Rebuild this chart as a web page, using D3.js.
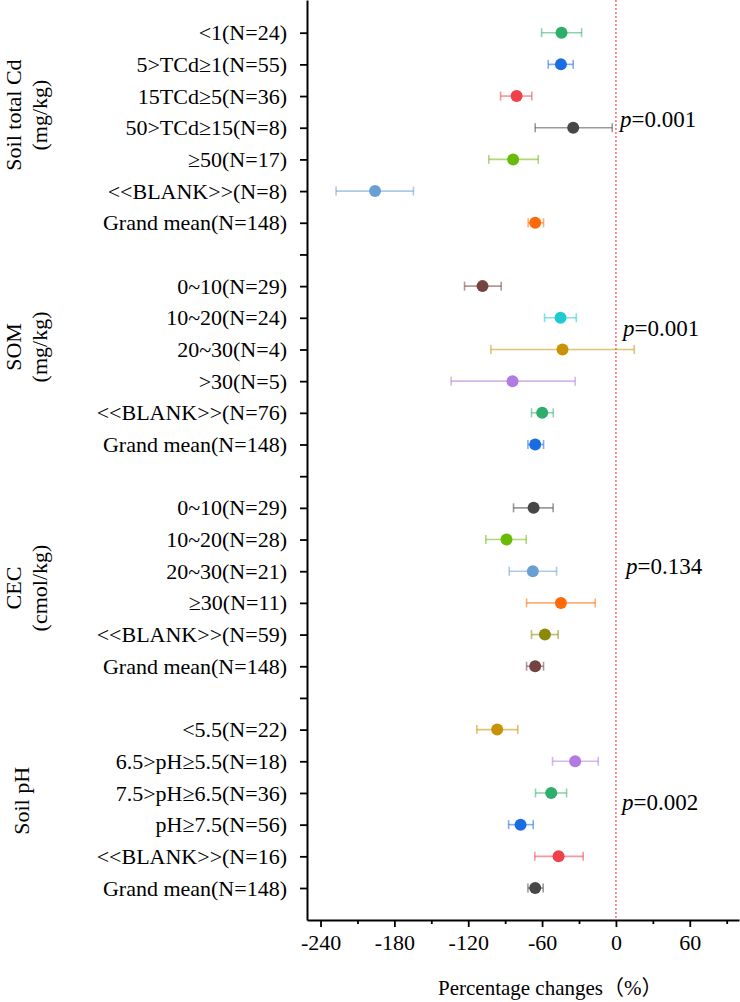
<!DOCTYPE html>
<html>
<head>
<meta charset="utf-8">
<script src="https://cdn.jsdelivr.net/npm/d3@7"></script>
<style>
  html, body { margin: 0; padding: 0; background: #fff; }
  svg { display: block; }
  text { font-family: "Liberation Serif", "Times New Roman", serif; fill: #000; }
</style>
</head>
<body>
<svg id="chart" width="740" height="1002"></svg>
<script>
// ---------- DATA ----------
const groupTitles = [["Soil total Cd", "(mg/kg)"], ["SOM", "(mg/kg)"], ["CEC", "(cmol/kg)"], ["Soil pH"]];
const pValues = ["0.001", "0.001", "0.134", "0.002"];

const cdLabels = ["<1(N=24)", "5>TCd≥1(N=55)", "15TCd≥5(N=36)", "50>TCd≥15(N=8)", "≥50(N=17)", "<<BLANK>>(N=8)", "Grand mean(N=148)"];
const cdMean = [-44.2, -44.7, -80.7, -34.7, -83.5, -195.7, -65.6];
const cdLow  = [-60.4, -55.0, -93.7, -65.6, -103.3, -227.4, -71.3];
const cdHigh = [-27.9, -34.7, -68.3, -3.0, -63.1, -164.5, -58.8];

const somLabels = ["0~10(N=29)", "10~20(N=24)", "20~30(N=4)", ">30(N=5)", "<<BLANK>>(N=76)", "Grand mean(N=148)"];
const somMean = [-108.4, -45.0, -43.4, -84.0, -59.9, -65.6];
const somLow  = [-123.0, -58.0, -101.6, -133.9, -68.6, -71.5];
const somHigh = [-93.2, -32.2, 14.9, -33.1, -50.9, -58.8];

const cecLabels = ["0~10(N=29)", "10~20(N=28)", "20~30(N=21)", "≥30(N=11)", "<<BLANK>>(N=59)", "Grand mean(N=148)"];
const cecMean = [-66.9, -88.9, -67.5, -44.7, -57.7, -65.6];
const cecLow  = [-83.2, -105.7, -86.7, -72.6, -68.6, -72.6];
const cecHigh = [-51.0, -72.9, -48.2, -16.8, -46.9, -58.8];

const phLabels = ["<5.5(N=22)", "6.5>pH≥5.5(N=18)", "7.5>pH≥6.5(N=36)", "pH≥7.5(N=56)", "<<BLANK>>(N=16)", "Grand mean(N=148)"];
const phMean = [-96.5, -33.1, -52.6, -77.5, -46.6, -65.6];
const phLow  = [-113.0, -51.5, -65.3, -87.2, -65.9, -71.5];
const phHigh = [-79.7, -14.4, -40.1, -67.2, -26.6, -59.1];

const xTicks = [-240, -180, -120, -60, 0, 60];
const xMinorTicks = [-210, -150, -90, -30, 30, 90];
const xTitle = "Percentage changes（%）";

// ---------- STYLES ----------
const cdColors  = ["#2fae6b", "#1a6de0", "#f0404c", "#474747", "#6cba08", "#6a9fd4", "#ff6a08"];
const somColors = ["#744443", "#1ecbcf", "#c99208", "#b27be2", "#2fae6b", "#1a6de0"];
const cecColors = ["#474747", "#6cba08", "#6a9fd4", "#ff6a08", "#8a8a06", "#744443"];
const phColors  = ["#c99208", "#b27be2", "#2fae6b", "#1a6de0", "#f0404c", "#474747"];

// ---------- BUILD ROWS ----------
const groups = [
  {labels: cdLabels, mean: cdMean, low: cdLow, high: cdHigh, colors: cdColors},
  {labels: somLabels, mean: somMean, low: somLow, high: somHigh, colors: somColors},
  {labels: cecLabels, mean: cecMean, low: cecLow, high: cecHigh, colors: cecColors},
  {labels: phLabels, mean: phMean, low: phLow, high: phHigh, colors: phColors}
];
const rows = [];
const tickLabelMap = {};
let idx = 0;
groups.forEach((g, gi) => {
  if (gi > 0) { tickLabelMap[idx] = ""; idx++; } // gap row
  g.labels.forEach((lab, i) => {
    rows.push({row: idx, label: lab, mean: g.mean[i], low: g.low[i], high: g.high[i], color: g.colors[i]});
    tickLabelMap[idx] = lab;
    idx++;
  });
});
const allRowIdx = d3.range(idx);

// ---------- LAYOUT ----------
const svg = d3.select("#chart");
const axisY = 920, axisX = 307;
const x = d3.scaleLinear().domain([-251, 100]).range([axisX, 739]);
const y = d3.scaleLinear().domain([-1.032, 28.01]).range([0, axisY]);

// Red dashed zero line
svg.append("line")
  .attr("x1", x(0)).attr("x2", x(0))
  .attr("y1", 0).attr("y2", axisY)
  .attr("stroke", "#f4606e").attr("stroke-width", 1.4)
  .attr("stroke-dasharray", "2,2");

// Error bars + dots
const g = svg.append("g");
const eb = g.selectAll("g.row").data(rows).join("g").attr("class", "row");
eb.append("line")
  .attr("x1", d => x(d.low)).attr("x2", d => x(d.high))
  .attr("y1", d => y(d.row)).attr("y2", d => y(d.row))
  .attr("stroke", d => d.color).attr("stroke-opacity", 0.55).attr("stroke-width", 1.6);
eb.append("line")
  .attr("x1", d => x(d.low)).attr("x2", d => x(d.low))
  .attr("y1", d => y(d.row) - 4.5).attr("y2", d => y(d.row) + 4.5)
  .attr("stroke", d => d.color).attr("stroke-opacity", 0.55).attr("stroke-width", 1.6);
eb.append("line")
  .attr("x1", d => x(d.high)).attr("x2", d => x(d.high))
  .attr("y1", d => y(d.row) - 4.5).attr("y2", d => y(d.row) + 4.5)
  .attr("stroke", d => d.color).attr("stroke-opacity", 0.55).attr("stroke-width", 1.6);
eb.append("circle")
  .attr("cx", d => x(d.mean)).attr("cy", d => y(d.row)).attr("r", 6)
  .attr("fill", d => d.color);

// Y axis
const yAxis = d3.axisLeft(y).tickValues(allRowIdx)
  .tickFormat(i => tickLabelMap[i]).tickSize(7).tickSizeOuter(0).tickPadding(13);
const yg = svg.append("g").attr("transform", `translate(${axisX},0)`).call(yAxis);
yg.select(".domain").attr("stroke", "#000").attr("stroke-width", 2);
yg.selectAll(".tick line").attr("stroke", "#000").attr("stroke-width", 1.8);
yg.selectAll(".tick text").attr("font-size", 22)
  .attr("font-family", "'Liberation Serif', 'Times New Roman', serif").attr("fill", "#000");

// X axis
const xAxis = d3.axisBottom(x).tickValues(xTicks).tickFormat(d => String(d))
  .tickSize(7).tickSizeOuter(0).tickPadding(7);
const xg = svg.append("g").attr("transform", `translate(0,${axisY})`).call(xAxis);
xg.select(".domain").attr("stroke", "#000").attr("stroke-width", 2);
xg.selectAll(".tick line").attr("stroke", "#000").attr("stroke-width", 1.8);
xg.selectAll(".tick text").attr("font-size", 22)
  .attr("font-family", "'Liberation Serif', 'Times New Roman', serif").attr("fill", "#000");
const xMinor = d3.axisBottom(x).tickValues(xMinorTicks).tickFormat("").tickSize(4).tickSizeOuter(0);
const xmg = svg.append("g").attr("transform", `translate(0,${axisY})`).call(xMinor);
xmg.select(".domain").remove();
xmg.selectAll(".tick line").attr("stroke", "#000").attr("stroke-width", 1.8);

// X title
svg.append("text")
  .attr("x", 438).attr("y", 995)
  .attr("font-size", 21)
  .style("font-family", "'Liberation Serif', 'Noto Sans CJK SC', serif")
  .text(xTitle);

// Group titles (rotated)
const titleCenterRow = [2.6, 9.92, 17.53, 24.25];
groupTitles.forEach((lines, gi) => {
  const cy = y(titleCenterRow[gi]);
  const xs = lines.length === 2 ? [21, 47] : [29];
  lines.forEach((ln, li) => {
    svg.append("text")
      .attr("transform", `translate(${xs[li]},${cy}) rotate(-90)`)
      .attr("text-anchor", "middle")
      .attr("font-size", 22)
      .text(ln);
  });
});

// p-values
const pRow = [2.99, 9.57, 17.09, 24.54];
const pX = [620, 623, 626, 622];
pValues.forEach((pv, gi) => {
  const t = svg.append("text")
    .attr("x", pX[gi]).attr("y", y(pRow[gi]))
    .attr("font-size", 23);
  t.append("tspan").attr("font-style", "italic").text("p");
  t.append("tspan").text("=" + pv);
});
</script>
</body>
</html>
